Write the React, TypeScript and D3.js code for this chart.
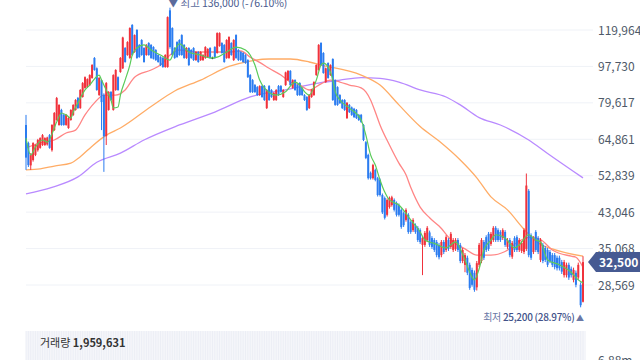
import React from 'react';
import * as d3 from 'd3';

// [open, high, low, close]
const candles: number[][] = [
  [70300, 74400, 54600, 58500], [63500, 64000, 55500, 56100], [56000, 60000, 54600, 59400], [57700, 63800, 57200, 63500],
  [59400, 63000, 59000, 62800], [61000, 65000, 60500, 64600], [61800, 65600, 61500, 65300], [62800, 66800, 62500, 66400],
  [62800, 65600, 62500, 65300], [63000, 65800, 62600, 65500], [66400, 66800, 61500, 61800], [61000, 70600, 60500, 70300],
  [68300, 75600, 68000, 75200], [72300, 82300, 72000, 81800], [70300, 79000, 70000, 78700], [76500, 77000, 70000, 70300],
  [74400, 74800, 70000, 70300], [70300, 74800, 70000, 74400], [69100, 73500, 68800, 73100], [72300, 76800, 72000, 76500],
  [74400, 79000, 74000, 78700], [76500, 81300, 76200, 80900], [81800, 82300, 77000, 77300], [77300, 86000, 77000, 85600],
  [82300, 89500, 82000, 89000], [86600, 92400, 86200, 92000], [87000, 91400, 86600, 91000], [88000, 93500, 87600, 93100],
  [91600, 99000, 91200, 98500], [102500, 103000, 95400, 95800], [96700, 97200, 85200, 85600], [83200, 92000, 82800, 91600],
  [90500, 91000, 68300, 80000], [83200, 84000, 54000, 66000], [66000, 89500, 62800, 89000], [76500, 85000, 76200, 84700],
  [84700, 85000, 80500, 80900], [76500, 93500, 76200, 93100], [85600, 96200, 85200, 95800], [92000, 92400, 85200, 85600],
  [94700, 103000, 94300, 102500], [96700, 115500, 96300, 115000], [108400, 109000, 99800, 100200], [104200, 112600, 103800, 112100],
  [102500, 121800, 102000, 121300], [123400, 124000, 103800, 104200], [106000, 117000, 105500, 116600], [120000, 120500, 102000, 102500],
  [110300, 110800, 102600, 103000], [113400, 113900, 103800, 104200], [108400, 108900, 99800, 100200], [104200, 110800, 103800, 110300],
  [111500, 112000, 103800, 104200], [110300, 110800, 102000, 102500], [109000, 109500, 101600, 102000], [107200, 107700, 100800, 101300],
  [104200, 104700, 99800, 100200], [103000, 103500, 98000, 98500], [102500, 103000, 97000, 97400], [97400, 104700, 97000, 104200],
  [97400, 129500, 97000, 129000], [134000, 136000, 108000, 109000], [121300, 121800, 103800, 104200], [108400, 108900, 102000, 102500],
  [112100, 112600, 102600, 103000], [113400, 113900, 103800, 104200], [116600, 117100, 103800, 104200], [110300, 110800, 102000, 102500],
  [102500, 108900, 102000, 108400], [108400, 108900, 98000, 98500], [107200, 107700, 102000, 102500], [108400, 108900, 100800, 101300],
  [101300, 106500, 100800, 106000], [106000, 106500, 99800, 100200], [101300, 106500, 100800, 106000], [101300, 104700, 100800, 104200],
  [102500, 109500, 102000, 109000], [103000, 108300, 102600, 107800], [108400, 108900, 102000, 102500], [102500, 103200, 101800, 102500],
  [109000, 109500, 102000, 102500], [105400, 118400, 105000, 117900], [109600, 118400, 109200, 117900], [111500, 112000, 105000, 105400],
  [110300, 110800, 99800, 100200], [102500, 113900, 102000, 113400], [102500, 115800, 102000, 115300], [111500, 112000, 103800, 104200],
  [101300, 113900, 100800, 113400], [116600, 117100, 102000, 102500], [107200, 107700, 100800, 101300], [106000, 106500, 100800, 101300],
  [105400, 105900, 99800, 100200], [104200, 104700, 99200, 99600], [101300, 101800, 91600, 92000], [93100, 93600, 84200, 84600],
  [90500, 91000, 84200, 84600], [88000, 88500, 84200, 84600], [87000, 87500, 82800, 83200], [83200, 87900, 82800, 87500],
  [87500, 88000, 81900, 82300], [87500, 88000, 80500, 80900], [77300, 86000, 76900, 85600], [87500, 88000, 80500, 80900],
  [85600, 86000, 81900, 82300], [80900, 84600, 80500, 84200], [80900, 86000, 80500, 85600], [87500, 88000, 82800, 83200],
  [87500, 88000, 84300, 84700], [82300, 86000, 81900, 85600], [88000, 94900, 87600, 94500], [90500, 95700, 90100, 95300],
  [95300, 95700, 87600, 88000], [86600, 90900, 86200, 90500], [90500, 90900, 85200, 85600], [88000, 88400, 82800, 83200],
  [89000, 89400, 82800, 83200], [86600, 87000, 82800, 83200], [83200, 83600, 80500, 80900], [82300, 82700, 76100, 76500],
  [77300, 83600, 76900, 83200], [82300, 86000, 81900, 85600], [83200, 89900, 82800, 89500], [93100, 98900, 92700, 98500],
  [95800, 110800, 95400, 110300], [111500, 112000, 98100, 98500], [105400, 105900, 93800, 94200], [89500, 97100, 89100, 96700],
  [99600, 100000, 91200, 91600], [93100, 98900, 92700, 98500], [101900, 102300, 80500, 80900], [90500, 90900, 78300, 78700],
  [87000, 87400, 78300, 78700], [83200, 83600, 79100, 79500], [80900, 81300, 76900, 77300], [80900, 81300, 76100, 76500],
  [73100, 80000, 72700, 79600], [78700, 79100, 75200, 75600], [77600, 78000, 74000, 74400], [77000, 77400, 73100, 73500],
  [76500, 76900, 72700, 73100], [74400, 74800, 71900, 72300], [74400, 74800, 71100, 71500], [70300, 70700, 64200, 64600],
  [63800, 64200, 58000, 58400], [59400, 59800, 51700, 52100], [53700, 54100, 51700, 52100], [52100, 56500, 51700, 56100],
  [54600, 55000, 51200, 51600], [52100, 52500, 47000, 47400], [51600, 52000, 47000, 47400], [47400, 47800, 42600, 43000],
  [46600, 47000, 41300, 41700], [42400, 46500, 42000, 46100], [44300, 47000, 43900, 46600], [44800, 47200, 44400, 46800],
  [46100, 46500, 43200, 43600], [45300, 45700, 42000, 42400], [44800, 45200, 42000, 42400], [43600, 44000, 39200, 39600],
  [42800, 43200, 39600, 40000], [41200, 44000, 40800, 43600], [42400, 42800, 38100, 38500], [40700, 41100, 38100, 38500],
  [38900, 41600, 38500, 41200], [40000, 40400, 38100, 38500], [39400, 39800, 36400, 36800], [38900, 39300, 36000, 36400],
  [35800, 37600, 30200, 37200], [35800, 38700, 35400, 38300], [36800, 39800, 36400, 39400], [38400, 38800, 35400, 35800],
  [37200, 37600, 35000, 35400], [36800, 37200, 34400, 34800], [36400, 36800, 33400, 33800], [35800, 36200, 33000, 33400],
  [33800, 36800, 33400, 36400], [36400, 36800, 34000, 34400], [34800, 37800, 34400, 37400], [36800, 37200, 34600, 35000],
  [35400, 38500, 35000, 38100], [34800, 37200, 34400, 36800], [35000, 37200, 34600, 36800], [36800, 37200, 34400, 34800],
  [35800, 36200, 32300, 32700], [32700, 35200, 32300, 34800], [32000, 34200, 30700, 33800], [33300, 33700, 30200, 30600],
  [32000, 32400, 27800, 28100], [31100, 31500, 28300, 28600], [30600, 31000, 27500, 27800], [28200, 32700, 27700, 32300],
  [32000, 36200, 31600, 35800], [32700, 37200, 32300, 36800], [36400, 36800, 32900, 33300], [37400, 37800, 34400, 34800],
  [38100, 38500, 34600, 35000], [36000, 38500, 35600, 38100], [36800, 39800, 36400, 39400], [39400, 39800, 36400, 36800],
  [38900, 39300, 36400, 36800], [38500, 38900, 36400, 36800], [37200, 39300, 36800, 38900], [38500, 38900, 35400, 35800],
  [35400, 37200, 35000, 36800], [36800, 37200, 33400, 33800], [33500, 36600, 33100, 36200], [37200, 37600, 34400, 34800],
  [37400, 37800, 34400, 34800], [34800, 37200, 34400, 36800], [34600, 36600, 34200, 36200], [34400, 39300, 34000, 38900],
  [35000, 53500, 34600, 50000], [48500, 49000, 33400, 33800], [37800, 38200, 32900, 33300], [34400, 37600, 34000, 37200],
  [38500, 38900, 34400, 34800], [37200, 37600, 34000, 34400], [32900, 37200, 32500, 36800], [35800, 36200, 32300, 32700],
  [35200, 35600, 32500, 32900], [34800, 35200, 31600, 32000], [34400, 34800, 32300, 32700], [33800, 34200, 31600, 32000],
  [33800, 34200, 31200, 31600], [33300, 33700, 31000, 31400], [33300, 33700, 31000, 31400], [32500, 32900, 30400, 30800],
  [30200, 32900, 29800, 32500], [30200, 32400, 29800, 32000], [32000, 32400, 29400, 29800], [31300, 31700, 29800, 30200],
  [29400, 31500, 29000, 31100], [30600, 31000, 28200, 28600], [29800, 32400, 29400, 32000], [28600, 29000, 25200, 25500],
  [26000, 33600, 25900, 32500],
];

// moving averages as [candle index, price]
const ma5 = [
  [0, 65300], [2, 59400], [4, 62100], [7, 64600], [9, 63800], [13, 71500], [15, 75200], [17, 74400], [19, 73100],
  [20, 75600], [22, 79600], [25, 85600], [27, 88000], [31, 93100], [32, 90500], [34, 85600], [36, 80900], [37, 77400],
  [39, 77800], [40, 83200], [42, 90500], [44, 98500], [45, 104200], [47, 108400], [50, 110300], [53, 107200], [57, 104200],
  [61, 101300], [63, 107200], [65, 111000], [69, 106000], [74, 104200], [78, 102500], [81, 103000], [85, 106000],
  [89, 109000], [93, 107200], [95, 104200], [97, 98500], [99, 90500], [101, 86600], [106, 83200], [110, 84800],
  [114, 89500], [116, 88000], [118, 84800], [120, 83200], [123, 90500], [125, 98500], [126, 99600], [128, 97400],
  [130, 90500], [131, 84800], [133, 80900], [137, 77300], [142, 72300], [144, 66400], [146, 59400], [148, 56100],
  [150, 51600], [152, 48200], [154, 46100], [158, 44800], [163, 41200], [167, 38500], [169, 36800], [173, 36100],
  [178, 35200], [182, 36400], [184, 35000], [186, 32900], [188, 30700], [190, 29400], [192, 31300], [194, 34800],
  [197, 36800], [199, 37900], [203, 37200], [207, 35200], [209, 35800], [213, 37900], [216, 36800], [218, 36400],
  [221, 32900], [226, 32000], [231, 30700], [234, 29400], [236, 28900],
];
const ma20 = [
  [0, 61800], [6, 63600], [12, 64600], [17, 67200], [21, 68300], [25, 74400], [29, 79600], [33, 83200], [38, 83200],
  [42, 85600], [46, 92000], [53, 95800], [57, 98500], [61, 104200], [65, 107200], [72, 106000], [80, 106000],
  [86, 106000], [91, 106600], [95, 103000], [99, 100000], [103, 96700], [108, 93100], [112, 89500], [116, 88000],
  [120, 85600], [125, 88600], [129, 90500], [133, 89500], [137, 88000], [142, 86600], [144, 84700], [146, 80900],
  [148, 75600], [150, 70300], [154, 62800], [158, 56700], [161, 53100], [163, 49500], [167, 44300], [171, 41700],
  [175, 39800], [181, 36400], [186, 35000], [191, 33800], [197, 33800], [203, 34500], [209, 36600], [214, 37400],
  [218, 36900], [223, 34800], [231, 33600], [233, 33400], [236, 31600],
];
const ma60 = [
  [0, 54600], [6, 54900], [12, 55800], [19, 56700], [23, 58800], [28, 62400], [34, 66400], [40, 69100], [53, 78000],
  [63, 85100], [74, 90500], [86, 97700], [95, 100700], [103, 101900], [112, 101900], [120, 100200], [125, 98500],
  [142, 93100], [150, 88000], [158, 78700], [167, 69700], [175, 64200], [184, 57700], [191, 52200], [197, 46900],
  [204, 43600], [211, 39100], [217, 36200], [223, 35000], [236, 33600],
];
const ma120 = [
  [0, 47700], [11, 49500], [22, 52500], [30, 57000], [40, 60000], [50, 64600], [65, 70300], [80, 75600], [95, 82300],
  [112, 86100], [122, 88600], [133, 90500], [142, 91800], [150, 91400], [158, 89500], [167, 85600], [178, 82300],
  [184, 78700], [192, 73300], [201, 70300], [213, 64600], [221, 59900], [236, 52200],
];

const priceTicks = [119964, 97730, 79617, 64861, 52839, 43046, 35068, 28569];
const volumeTick = '6.88m';
const lastVolume = 1959631;

const RED = '#f0323c';
const BLUE = '#2b7cf0';
const fmt = d3.format(',');
const KR = "'Noto Sans CJK KR', 'Noto Sans', sans-serif";

export default function App() {
  const W = 640;
  const H = 360;
  const n = candles.length;
  const x = d3.scaleLinear().domain([0, n - 1]).range([26, 583]);
  const y = d3.scaleLog().domain([28569, 119964]).range([285, 30]);

  const line = d3
    .line<number[]>()
    .x((d) => x(d[0]))
    .y((d) => y(d[1]))
    .curve(d3.curveMonotoneX);

  const last = candles[n - 1][3];
  const hiIdx = d3.maxIndex(candles, (c) => c[1]);
  const loIdx = d3.minIndex(candles, (c) => c[2]);
  const hi = candles[hiIdx][1];
  const lo = candles[loIdx][2];
  const hiPct = ((last / hi - 1) * 100).toFixed(2);
  const loPct = ((last / lo - 1) * 100).toFixed(2);

  return (
    <div style={{ position: 'absolute', left: 0, top: 0 }}>
      <svg width={W} height={H} style={{ display: 'block', background: '#fff' }}>
        {priceTicks.map((t) => (
          <line key={t} x1={26} x2={593} y1={y(t)} y2={y(t)} stroke="#eff2f7" strokeWidth={1} />
        ))}

        {/* volume pane, bars run past the bottom edge */}
        <rect x={26} y={331} width={560} height={29} fill="#f5f6fa" />
        {candles.map((c, i) => (
          <line key={'v' + i} x1={x(i)} x2={x(i)} y1={331} y2={360} stroke="#eceef5" strokeWidth={1} />
        ))}

        <path d={line(ma120) || ''} fill="none" stroke="#b98aff" strokeWidth={1.3} />
        <path d={line(ma60) || ''} fill="none" stroke="#ffac66" strokeWidth={1.3} />
        <path d={line(ma20) || ''} fill="none" stroke="#ff8585" strokeWidth={1.3} />

        {candles.map((c, i) => {
          const [o, h, l, cl] = c;
          const col = cl > o ? RED : cl < o ? BLUE : '#222';
          const top = y(Math.max(o, cl));
          const bh = Math.max(1, Math.abs(y(o) - y(cl)));
          return (
            <g key={i}>
              <line x1={x(i)} x2={x(i)} y1={y(h)} y2={y(l)} stroke={col} strokeWidth={1} />
              <rect x={x(i) - 1} y={top} width={2} height={bh} fill={col} />
            </g>
          );
        })}

        <path d={line(ma5) || ''} fill="none" stroke="#5acb5a" strokeWidth={1.2} />

        {priceTicks.map((t) => (
          <text key={'l' + t} x={598} y={y(t) + 4.5} fontSize={12} fill="#4e5968" fontFamily={KR}>
            {fmt(t)}
          </text>
        ))}

        <text x={x(hiIdx) - 2} y={6.5} fontSize={10.5} letterSpacing={-0.1} fill="#5b6b9c" fontFamily={KR}>
          {'▼ 최고 '}
          <tspan fill="#4a5a8e">{`${fmt(hi)} (${hiPct}%)`}</tspan>
        </text>
        <text x={x(loIdx) + 3} y={320.5} fontSize={10} letterSpacing={-0.3} fill="#6a78a6" fontFamily={KR} textAnchor="end">
          {'최저 '}
          <tspan fill="#42528a" fontWeight={500}>{`${fmt(lo)} (${loPct}%)`}</tspan>
          <tspan fontSize={8}>{' ▲'}</tspan>
        </text>

        <g>
          <path
            d={`M${588},${y(last)} L${596},${y(last) - 10} L${640},${y(last) - 10} L${640},${y(last) + 10} L${596},${y(last) + 10} Z`}
            fill="#465a92"
          />
          <text x={599} y={y(last) + 4.5} fontSize={12} fontWeight="bold" fill="#fff" fontFamily={KR}>
            {fmt(last)}
          </text>
        </g>

        <text x={40} y={347} fontSize={11} fill="#333" fontFamily={KR}>
          {'거래량 '}
          <tspan fontWeight="bold">{fmt(lastVolume)}</tspan>
        </text>
        <text x={598} y={365} fontSize={12} fill="#4e5968" fontFamily={KR}>
          {volumeTick}
        </text>
      </svg>
    </div>
  );
}
